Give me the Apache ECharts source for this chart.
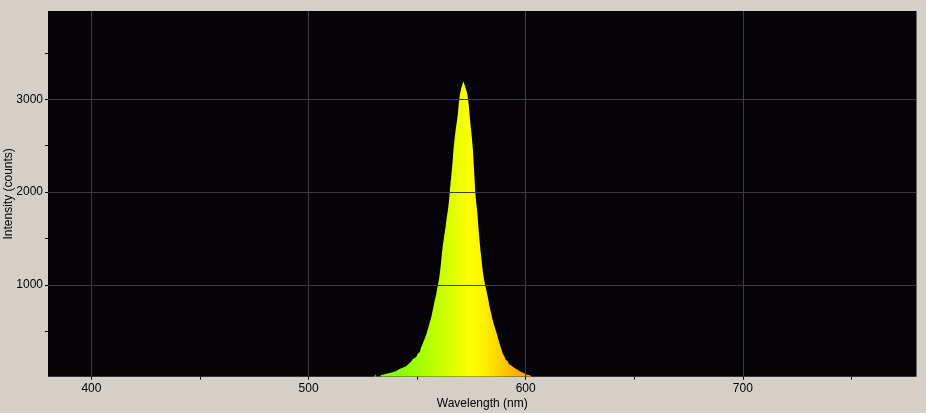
<!DOCTYPE html>
<html>
<head>
<meta charset="utf-8">
<script src="https://cdn.jsdelivr.net/npm/echarts@6/dist/echarts.min.js"></script>
<style>
html,body{margin:0;padding:0;background:#d4d0c8;}
#chart{width:926px;height:413px;}
</style>
</head>
<body>
<div id="chart"></div>
<script>
// Wavelength (nm) samples
const wavelengths = [
  530.0,530.5,531.0,531.5,532.0,532.5,533.0,533.5,534.0,534.5,
  535.0,535.5,536.0,536.5,537.0,537.5,538.0,538.5,539.0,539.5,
  540.0,540.5,541.0,541.5,542.0,542.5,543.0,543.5,544.0,544.5,
  545.0,545.5,546.0,546.5,547.0,547.5,548.0,548.5,549.0,549.5,
  550.0,550.5,551.0,551.5,552.0,552.5,553.0,553.5,554.0,554.5,
  555.0,555.5,556.0,556.5,557.0,557.5,558.0,558.5,559.0,559.5,
  560.0,560.5,561.0,561.5,562.0,562.5,563.0,563.5,564.0,564.5,
  565.0,565.5,566.0,566.5,567.0,567.5,568.0,568.5,569.0,569.5,
  570.0,570.5,571.0,571.5,572.0,572.5,573.0,573.5,574.0,574.5,
  575.0,575.5,576.0,576.5,577.0,577.5,578.0,578.5,579.0,579.5,
  580.0,580.5,581.0,581.5,582.0,582.5,583.0,583.5,584.0,584.5,
  585.0,585.5,586.0,586.5,587.0,587.5,588.0,588.5,589.0,589.5,
  590.0,590.5,591.0,591.5,592.0,592.5,593.0,593.5,594.0,594.5,
  595.0,595.5,596.0,596.5,597.0,597.5,598.0,598.5,599.0,599.5,
  600.0,600.5,601.0,601.5,602.0,602.5,603.0
];
// Intensity (counts)
const intensities = [
  0,0,40,0,0,0,0,32,35,38,
  42,45,48,51,54,57,60,64,67,71,
  74,78,83,88,93,99,104,110,118,126,
  135,145,155,165,176,188,200,212,222,232,
  245,262,280,300,325,350,380,410,440,470,
  510,550,595,630,680,735,790,850,900,960,
  1020,1090,1180,1300,1410,1490,1570,1650,1740,1820,
  1920,2060,2180,2300,2460,2570,2670,2750,2840,2970,
  3060,3110,3150,3195,3190,3130,3090,3040,2940,2810,
  2690,2580,2440,2230,2010,1880,1780,1620,1480,1360,
  1250,1150,1070,1010,960,905,850,780,730,680,
  630,585,545,510,470,430,390,350,315,275,
  250,228,200,180,165,150,138,127,118,110,
  102,95,88,81,74,67,61,56,50,44,
  39,35,32,30,28,25,0
];
const xMajorTicks = [400, 500, 600, 700];
const xMinorTicks = [450, 550, 650, 750];
const yMajorTicks = [1000, 2000, 3000];
const yMinorTicks = [500, 1500, 2500, 3500];

// spectral colour stops (wavelength nm -> colour)
const spectrumStops = [
  [530, '#74ff00'], [545, '#92ff00'], [555, '#b0ff00'], [565, '#d8ff00'],
  [574, '#ffff00'], [581, '#fff000'], [590, '#ffc800'], [600, '#ffa200'], [603, '#ff9a00']
];

const X_MIN = 380, X_MAX = 780, Y_MIN = 14, Y_MAX = 3950;
const FONT = 'Liberation Sans';
const lo = wavelengths[0], hi = wavelengths[wavelengths.length - 1];
const gradient = new echarts.graphic.LinearGradient(0, 0, 1, 0,
  spectrumStops.map(s => ({ offset: (s[0] - lo) / (hi - lo), color: s[1] })));

const chart = echarts.init(document.getElementById('chart'), null, { renderer: 'canvas' });
const gridLine = { show: true, lineStyle: { color: '#3c3c3c', width: 1 } };
const labelStyle = { color: '#000', fontFamily: FONT, fontSize: 12 };
const plain = v => String(v);

chart.setOption({
  backgroundColor: '#d4d0c8',
  animation: false,
  grid: {
    left: 48, right: 9.5, top: 11, bottom: 36.3,
    containLabel: false, outerBoundsMode: 'none',
    show: true, backgroundColor: '#050308', borderWidth: 0
  },
  xAxis: [
    {
      type: 'value', min: X_MIN, max: X_MAX, position: 'bottom', z: 5,
      name: 'Wavelength (nm)', nameLocation: 'middle', nameGap: 21, nameMoveOverlap: false,
      nameTextStyle: labelStyle,
      axisLine: { show: false },
      axisTick: { show: true, customValues: xMajorTicks, length: 3, lineStyle: { color: '#000' } },
      axisLabel: { show: true, customValues: xMajorTicks, margin: 6, formatter: plain, ...labelStyle },
      splitLine: gridLine
    },
    {
      type: 'value', min: X_MIN, max: X_MAX, position: 'bottom', z: 5,
      axisLine: { show: false },
      axisTick: { show: true, customValues: xMinorTicks, length: 3, lineStyle: { color: '#000' } },
      axisLabel: { show: false },
      splitLine: { show: false }
    }
  ],
  yAxis: [
    {
      type: 'value', min: Y_MIN, max: Y_MAX, position: 'left', z: 5,
      name: 'Intensity (counts)', nameLocation: 'middle', nameGap: 33, nameMoveOverlap: false,
      nameTextStyle: labelStyle,
      axisLine: { show: false },
      axisTick: { show: true, customValues: yMajorTicks, length: 3, lineStyle: { color: '#000' } },
      axisLabel: { show: true, customValues: yMajorTicks, margin: 5, formatter: plain, ...labelStyle },
      splitLine: gridLine
    },
    {
      type: 'value', min: Y_MIN, max: Y_MAX, position: 'left', z: 5,
      axisLine: { show: false },
      axisTick: { show: true, customValues: yMinorTicks, length: 3, lineStyle: { color: '#000' } },
      axisLabel: { show: false },
      splitLine: { show: false }
    }
  ],
  series: [{
    type: 'line',
    xAxisIndex: 0, yAxisIndex: 0,
    z: 1,
    step: 'middle',
    symbol: 'none',
    clip: true,
    lineStyle: { width: 0, opacity: 0 },
    areaStyle: { color: gradient, opacity: 1, origin: 'start' },
    data: wavelengths.map((w, i) => [w, intensities[i]])
  }]
});
</script>
</body>
</html>
